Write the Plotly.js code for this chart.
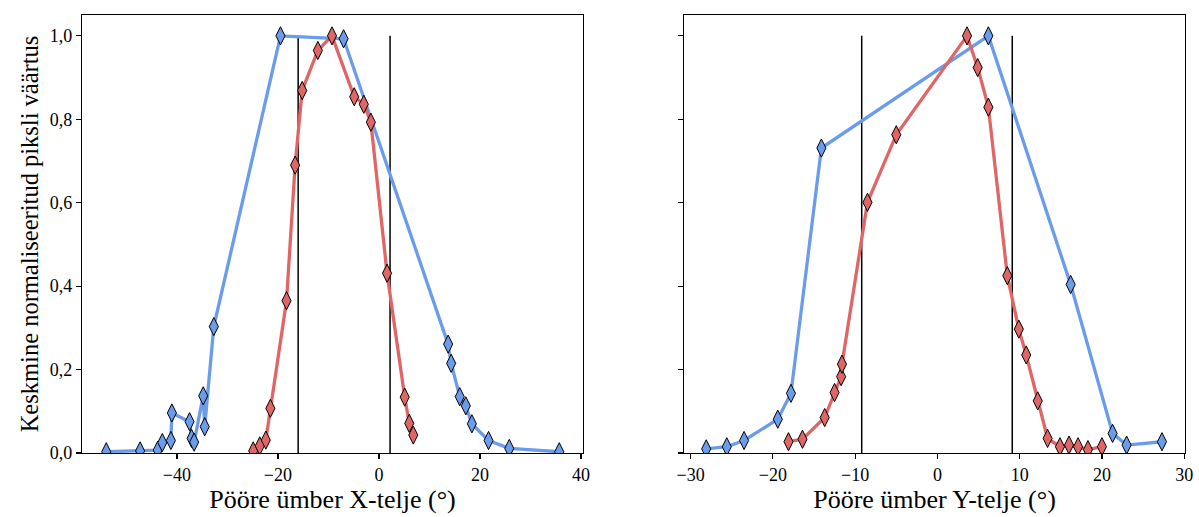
<!DOCTYPE html>
<html>
<head>
<meta charset="utf-8">
<script src="https://cdn.plot.ly/plotly-3.0.1.min.js"></script>
<style>html,body{margin:0;padding:0;background:#fff;}#chart{width:1199px;height:517px;}</style>
</head>
<body>
<div id="chart"></div>
<script>
// Left panel: rotation around X axis
const xBlueX = [-54.0, -47.3, -43.8, -42.9, -41.2, -41.0, -37.5, -37.1, -36.6, -34.8, -34.5, -32.7, -19.5, -7.0, 13.7, 14.3, 16.0, 17.2, 18.4, 21.7, 25.8, 35.7];
const yBlueX = [0.003, 0.005, 0.007, 0.025, 0.030, 0.096, 0.075, 0.035, 0.026, 0.137, 0.063, 0.303, 1.000, 0.993, 0.261, 0.215, 0.135, 0.113, 0.070, 0.030, 0.011, 0.003];
const xRedX = [-24.9, -23.6, -22.4, -21.5, -18.3, -16.6, -15.2, -12.1, -9.3, -4.9, -3.0, -1.6, 1.6, 5.1, 6.0, 6.8];
const yRedX = [0.005, 0.017, 0.031, 0.107, 0.365, 0.690, 0.869, 0.965, 1.000, 0.854, 0.836, 0.793, 0.431, 0.134, 0.071, 0.043];
const vlinesX = [-16.0, 2.2];

// Right panel: rotation around Y axis
const xBlueY = [-28.1, -25.6, -23.5, -19.4, -17.8, -14.1, 6.2, 16.2, 21.3, 23.0, 27.3];
const yBlueY = [0.010, 0.015, 0.030, 0.081, 0.143, 0.731, 1.000, 0.404, 0.047, 0.019, 0.027];
const xRedY = [-18.1, -16.4, -13.7, -12.5, -11.7, -11.6, -8.5, -5.0, 3.6, 4.9, 6.2, 8.5, 9.9, 10.8, 12.2, 13.4, 14.9, 16.0, 17.1, 18.3, 20.0];
const yRedY = [0.027, 0.033, 0.085, 0.145, 0.183, 0.213, 0.601, 0.763, 1.000, 0.924, 0.829, 0.425, 0.297, 0.235, 0.125, 0.035, 0.015, 0.019, 0.015, 0.008, 0.015];
const vlinesY = [-9.2, 9.1];

const yTicks = [0, 0.2, 0.4, 0.6, 0.8, 1.0];
const xTicksX = [-40, -20, 0, 20, 40];
const xTicksY = [-30, -20, -10, 0, 10, 20, 30];

const BLUE = '#6a9ceb';
const RED = '#e06666';
const FONT = 'Liberation Serif, Times New Roman, serif';

function series(x, y, color, xa, ya) {
  return {
    x: x, y: y, xaxis: xa, yaxis: ya, type: 'scatter', mode: 'lines+markers',
    line: {color: color, width: 3.3},
    marker: {symbol: 'diamond-tall', size: 13, color: color, line: {color: '#000', width: 1}},
    showlegend: false, hoverinfo: 'skip'
  };
}
function vline(v, xa, ya) {
  return {x: [v, v], y: [0, 1], xaxis: xa, yaxis: ya, type: 'scatter', mode: 'lines',
    line: {color: '#000', width: 1.5}, showlegend: false, hoverinfo: 'skip'};
}

const traces = [];
vlinesX.forEach(v => traces.push(vline(v, 'x', 'y')));
traces.push(series(xBlueX, yBlueX, BLUE, 'x', 'y'));
traces.push(series(xRedX, yRedX, RED, 'x', 'y'));
vlinesY.forEach(v => traces.push(vline(v, 'x2', 'y2')));
traces.push(series(xBlueY, yBlueY, BLUE, 'x2', 'y2'));
traces.push(series(xRedY, yRedY, RED, 'x2', 'y2'));

const axBase = {
  showgrid: false, zeroline: false, showline: true, linecolor: '#000', linewidth: 1.2,
  mirror: true, ticks: 'outside', ticklen: 5, tickwidth: 1.2, tickcolor: '#000',
  tickfont: {family: FONT, size: 18, color: '#000'}
};

const layout = {
  width: 1199, height: 517,
  margin: {l: 82, r: 14, t: 15, b: 64},
  paper_bgcolor: '#fff', plot_bgcolor: '#fff',
  separators: ', ',
  font: {family: FONT, color: '#000'},
  xaxis: Object.assign({}, axBase, {
    domain: [0, 0.4542], range: [-58.8, 40.4], tickvals: xTicksX,
    title: {text: 'Pööre ümber X-telje (°)', font: {family: FONT, size: 26, color: '#000'}, standoff: 6}
  }),
  yaxis: Object.assign({}, axBase, {
    range: [0, 1.05], tickvals: yTicks, tickformat: '.1f',
    title: {text: 'Keskmine normaliseeritud piksli väärtus', font: {family: FONT, size: 24.5, color: '#000'}, standoff: 4}
  }),
  xaxis2: Object.assign({}, axBase, {
    domain: [0.5458, 1], range: [-30.8, 30.1], tickvals: xTicksY, anchor: 'y2',
    title: {text: 'Pööre ümber Y-telje (°)', font: {family: FONT, size: 26, color: '#000'}, standoff: 6}
  }),
  yaxis2: Object.assign({}, axBase, {
    range: [0, 1.05], tickvals: yTicks, showticklabels: false, anchor: 'x2'
  })
};

Plotly.newPlot('chart', traces, layout, {staticPlot: true, displayModeBar: false});
</script>
</body>
</html>
